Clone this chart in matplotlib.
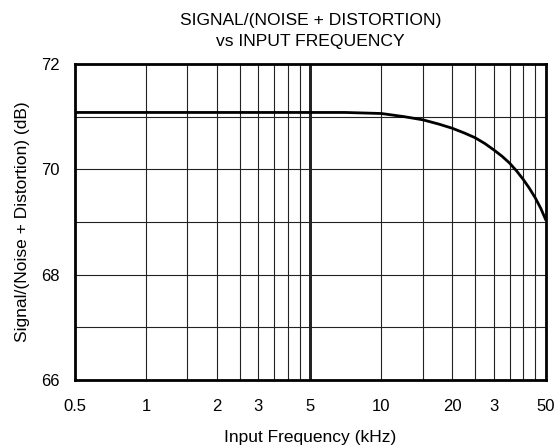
import matplotlib
matplotlib.use("Agg")
import matplotlib.pyplot as plt
import numpy as np

plt.rcParams['font.family'] = ['Liberation Sans', 'DejaVu Sans']

# curva
freq_khz = [0.5, 1, 2, 5, 7, 10, 12.5, 15, 17.5, 20, 22.5, 25, 27.5, 30,
            32.5, 35, 37.5, 40, 42.5, 45, 47.5, 50]
sinad_db = [71.08, 71.08, 71.08, 71.08, 71.08, 71.06, 71.0, 70.94, 70.86,
            70.78, 70.69, 70.6, 70.49, 70.37, 70.25, 70.12, 69.97, 69.81,
            69.64, 69.46, 69.26, 69.03]

xticks = [0.5, 1, 2, 3, 5, 10, 20, 30, 50]
xtick_labels = ['0.5', '1', '2', '3', '5', '10', '20', '3', '50']
yticks = [66, 68, 70, 72]

# lineas de grilla verticales
xgrid = [0.5 * k for k in range(1, 11)] + [5 * k for k in range(1, 11)]
ygrid = [66, 67, 68, 69, 70, 71, 72]

fig = plt.figure(figsize=(5.56, 4.45), dpi=100)
ax = fig.add_axes([75 / 556, 1 - 380 / 445, 471 / 556, 316 / 445])

ax.set_xscale('log')
ax.set_xlim(0.5, 50)
ax.set_ylim(66, 72)

for xg in xgrid:
    lw = 2.0 if xg == 5 else 0.8
    ax.axvline(xg, color='#222222', lw=lw, zorder=1)
for yg in ygrid:
    ax.axhline(yg, color='#222222', lw=0.8, zorder=1)

ax.plot(freq_khz, sinad_db, color='black', lw=2.0, zorder=3,
        solid_capstyle='butt')

ax.set_xticks(xticks)
ax.set_xticklabels(xtick_labels)
ax.xaxis.set_minor_locator(matplotlib.ticker.NullLocator())
ax.set_yticks(yticks)
ax.tick_params(length=0, labelsize=12)
ax.tick_params(axis='x', pad=14)
ax.tick_params(axis='y', pad=11)

for s in ax.spines.values():
    s.set_linewidth(2.0)

ax.set_xlabel('Input Frequency (kHz)', fontsize=12.5, labelpad=11)
ax.set_ylabel('Signal/(Noise + Distortion) (dB)', fontsize=12.5, labelpad=8)
ax.set_title('SIGNAL/(NOISE + DISTORTION)\nvs INPUT FREQUENCY',
             fontsize=12.6, pad=13, linespacing=1.5)

fig.savefig('out.png', dpi=100)
